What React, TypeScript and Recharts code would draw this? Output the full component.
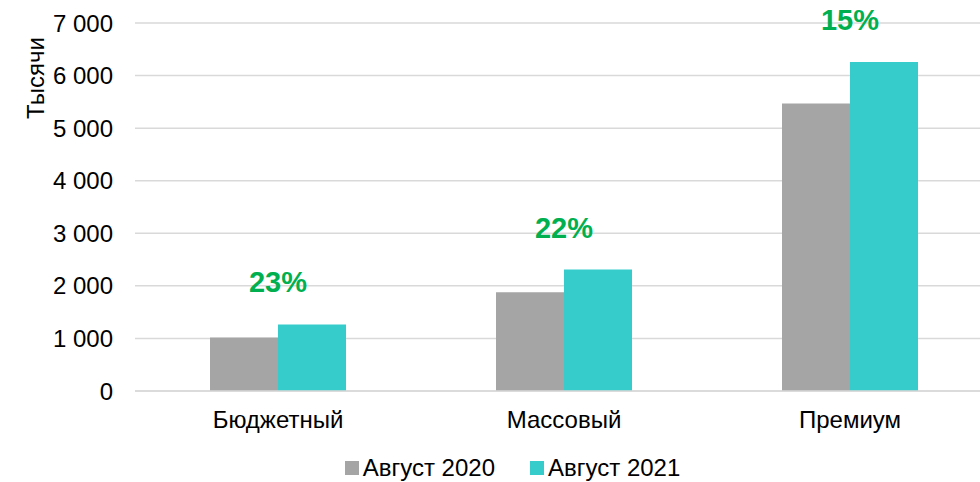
import React from 'react'
import { BarChart, Bar, XAxis, YAxis, CartesianGrid, Legend, LabelList } from 'recharts'

const categories = ['Бюджетный', 'Массовый', 'Премиум']
const aug2020 = [1020, 1880, 5470]
const aug2021 = [1265, 2310, 6260]
const growth = ['23%', '22%', '15%']
const yTicks = [0, 1000, 2000, 3000, 4000, 5000, 6000, 7000]

const seriesNames = ['Август 2020', 'Август 2021']
const seriesColors = ['#a5a5a5', '#36cccc']

const data = categories.map((name, i) => ({
  name,
  a2020: aug2020[i],
  a2021: aug2021[i],
  growth: growth[i],
}))

const FONT = '"Liberation Sans", Arial, sans-serif'

// thousands with a space, like "7 000"
const fmt = (v: number) => v.toLocaleString('ru-RU').replace(/\u00a0|\u202f/g, ' ')

// percent label centred over the pair, the teal bar's left edge is the category centre
const GrowthLabel = (props: any) => {
  const { x, y, value } = props
  return (
    <text
      x={x}
      y={y - 42}
      textAnchor="middle"
      dominantBaseline="central"
      fill="#00b050"
      fontSize={29}
      fontWeight="bold"
      fontFamily={FONT}
    >
      {value}
    </text>
  )
}

const AxisTitle = (props: any) => {
  const { viewBox } = props
  const cx = viewBox.x + 35
  const cy = viewBox.y + 55
  return (
    <text
      x={cx}
      y={cy}
      transform={`rotate(-90 ${cx} ${cy})`}
      textAnchor="middle"
      dominantBaseline="central"
      fill="#000"
      fontSize={24}
      fontFamily={FONT}
    >
      Тысячи
    </text>
  )
}

const LegendContent = () => (
  <div style={{ display: 'flex', justifyContent: 'center', paddingLeft: 32, paddingTop: 5, fontFamily: FONT, fontSize: 24, color: '#000' }}>
    {seriesNames.map((n, i) => (
      <div key={n} style={{ display: 'flex', alignItems: 'center', marginRight: i === 0 ? 35 : 0 }}>
        <span style={{ width: 14, height: 14, background: seriesColors[i], marginRight: 4, display: 'inline-block' }} />
        <span>{n}</span>
      </div>
    ))}
  </div>
)

export default function App() {
  return (
    <div style={{ position: 'absolute', left: 0, top: 0, width: 980, height: 482, overflow: 'hidden', background: '#fff' }}>
      <BarChart
        width={1000}
        height={482}
        data={data}
        margin={{ top: 23, right: 7, bottom: 0, left: 0 }}
        barGap={0}
        barSize={68}
      >
        <CartesianGrid vertical={false} stroke="#d9d9d9" strokeWidth={1.5} />
        <XAxis
          dataKey="name"
          axisLine={{ stroke: '#d9d9d9', strokeWidth: 1.5 }}
          tickLine={false}
          tickSize={0}
          tickMargin={20}
          height={58}
          tick={{ fill: '#000', fontSize: 24, fontFamily: FONT }}
        />
        <YAxis
          width={135}
          domain={[0, 7000]}
          ticks={yTicks}
          axisLine={false}
          tickLine={false}
          tickSize={0}
          tickMargin={22}
          tickFormatter={fmt}
          tick={{ fill: '#000', fontSize: 24, fontFamily: FONT }}
          label={<AxisTitle />}
        />
        <Legend verticalAlign="bottom" height={33} content={<LegendContent />} />
        <Bar dataKey="a2020" name={seriesNames[0]} fill={seriesColors[0]} isAnimationActive={false} />
        <Bar dataKey="a2021" name={seriesNames[1]} fill={seriesColors[1]} isAnimationActive={false}>
          <LabelList dataKey="growth" content={<GrowthLabel />} />
        </Bar>
      </BarChart>
    </div>
  )
}
